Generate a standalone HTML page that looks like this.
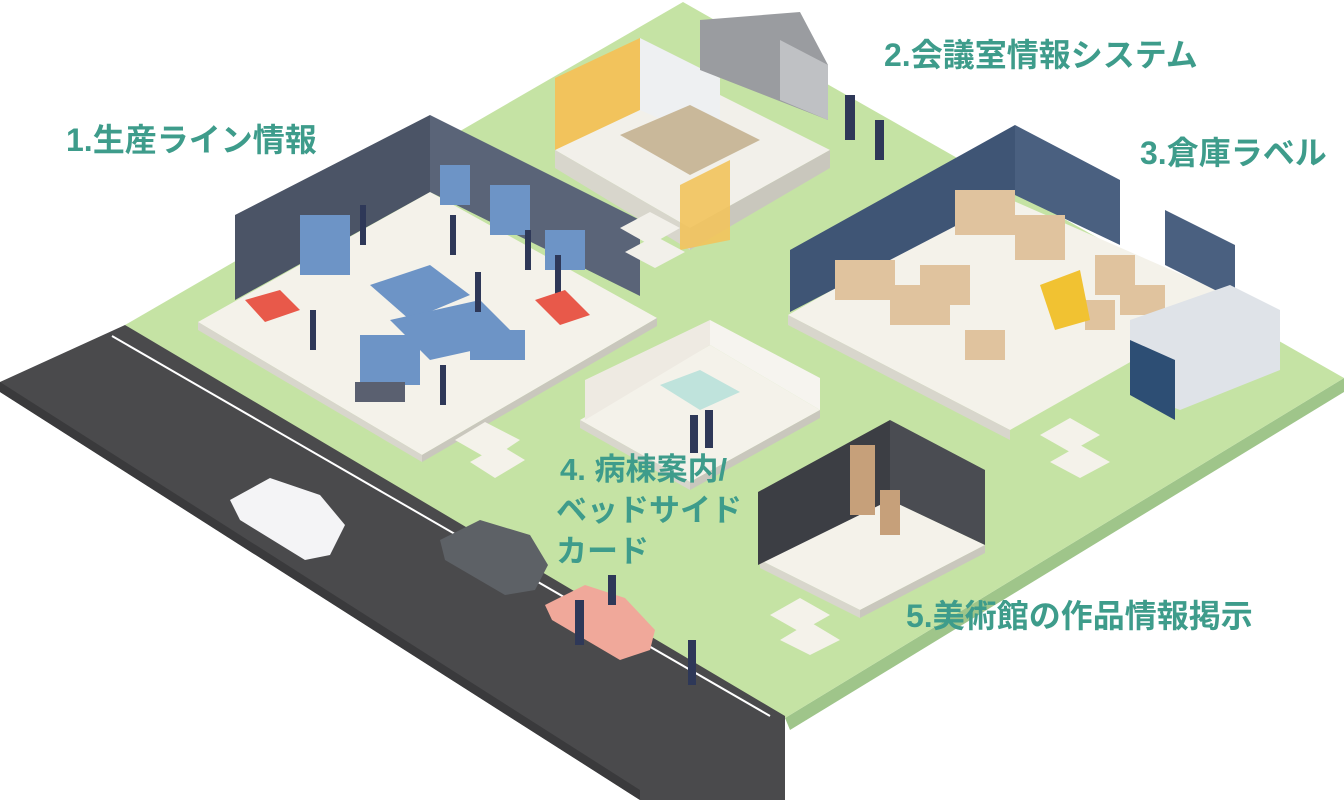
<!DOCTYPE html>
<html><head><meta charset="utf-8"><style>
html,body{margin:0;padding:0;background:#fff;width:1344px;height:800px;overflow:hidden}
svg{display:block}
text{font-family:"Liberation Sans","Noto Sans CJK JP",sans-serif;font-weight:bold;fill:#3e9c8b;font-size:32px}
</style></head><body>
<svg width="1344" height="800" viewBox="0 0 1344 800">
<polygon points="1344,378 1344,392 790,730 785,718" fill="#9fc58a"/>
<polygon points="683,2 1344,378 785,718 125,325" fill="#c5e3a4"/>
<polygon points="125,325 785,716 785,800 640,800 0,392 0,382" fill="#4a4a4c"/>
<polygon points="0,382 640,790 640,800 0,392" fill="#3a3a3c"/>
<polyline points="112,336 770,716" stroke="#fff" stroke-width="2" fill="none"/>

<polygon points="198,322 430,192 657,318 422,455" fill="#f4f2ea"/>
<polygon points="198,322 422,455 422,462 198,330" fill="#d8d6cc"/>
<polygon points="422,455 657,318 657,326 422,462" fill="#c9c7bd"/>
<polygon points="235,215 430,115 430,192 235,300" fill="#4b5466"/>
<polygon points="430,115 640,220 640,296 430,192" fill="#5a6478"/>
<g fill="#6d94c6">
<rect x="300" y="215" width="50" height="60"/><rect x="440" y="165" width="30" height="40"/>
<rect x="490" y="185" width="40" height="50"/><rect x="545" y="230" width="40" height="40"/>
<polygon points="370,285 430,265 470,295 410,320"/><polygon points="390,320 480,300 520,340 430,360"/>
<rect x="360" y="335" width="60" height="50"/><rect x="470" y="330" width="55" height="30"/>
</g>
<g fill="#2e3858"><rect x="360" y="205" width="6" height="40"/><rect x="450" y="215" width="6" height="40"/><rect x="475" y="272" width="6" height="40"/><rect x="525" y="230" width="6" height="40"/><rect x="440" y="365" width="6" height="40"/><rect x="310" y="310" width="6" height="40"/><rect x="555" y="255" width="6" height="40"/></g>
<rect x="355" y="382" width="50" height="20" fill="#5a6070"/>
<polygon points="245,300 280,290 300,310 265,322" fill="#e8594a"/>
<polygon points="535,300 565,290 590,315 560,325" fill="#e8594a"/>
<polygon points="455,440 485,422 520,440 490,460" fill="#f4f2ea"/>
<polygon points="470,462 500,445 525,460 495,478" fill="#f4f2ea"/>

<polygon points="555,150 690,80 830,150 690,228" fill="#f2f0ea"/>
<polygon points="555,150 690,228 690,250 555,168" fill="#d8d6cc"/>
<polygon points="690,228 830,150 830,168 690,250" fill="#c9c7bd"/>
<polygon points="555,78 640,38 640,110 555,150" fill="#f2c35c"/>
<polygon points="640,38 720,78 720,145 640,110" fill="#eef0f2"/>
<polygon points="680,185 730,160 730,240 680,250" fill="#f2c35c" opacity=".9"/>
<polygon points="620,135 690,105 760,140 690,175" fill="#c9b89a"/>
<polygon points="700,20 800,12 828,65 828,120 700,70" fill="#9a9ca0"/>
<polygon points="780,40 828,65 828,120 780,100" fill="#bfc1c4"/>
<polygon points="620,228 650,212 680,228 650,245" fill="#f2f0ea"/>
<polygon points="625,252 655,236 685,252 655,268" fill="#f2f0ea"/>
<g fill="#2e3858"><rect x="845" y="95" width="10" height="45"/><rect x="875" y="120" width="9" height="40"/></g>

<polygon points="788,315 1000,195 1240,300 1010,430" fill="#f4f2ea"/>
<polygon points="788,315 1010,430 1010,440 788,325" fill="#d8d6cc"/>
<polygon points="790,250 1015,125 1015,195 790,312" fill="#3f5575"/>
<polygon points="1015,125 1120,180 1120,245 1015,195" fill="#4a6080"/>
<polygon points="1165,210 1235,245 1235,300 1165,265" fill="#4a6080"/>
<g fill="#e0c39e">
<rect x="835" y="260" width="60" height="40"/><rect x="890" y="285" width="60" height="40"/><rect x="955" y="190" width="60" height="45"/>
<rect x="1015" y="215" width="50" height="45"/><rect x="1095" y="255" width="40" height="40"/><rect x="1120" y="285" width="45" height="30"/>
<rect x="965" y="330" width="40" height="30"/><rect x="1085" y="300" width="30" height="30"/><rect x="920" y="265" width="50" height="40"/>
</g>
<polygon points="1040,285 1080,270 1090,320 1055,330" fill="#f1c232"/>
<polygon points="1130,320 1230,285 1280,310 1280,370 1180,410 1130,390" fill="#dfe3e8"/>
<polygon points="1130,340 1175,360 1175,420 1130,395" fill="#2d4e74"/>
<polygon points="1040,435 1070,418 1100,435 1070,452" fill="#f4f2ea"/>
<polygon points="1050,462 1080,445 1110,462 1080,478" fill="#f4f2ea"/>

<polygon points="580,420 710,345 820,410 690,482" fill="#f4f2ea"/>
<polygon points="580,420 690,482 690,490 580,428" fill="#d8d6cc"/>
<polygon points="690,482 820,410 820,418 690,490" fill="#c9c7bd"/>
<polygon points="585,380 710,320 710,345 585,420" fill="#eeeae2"/>
<polygon points="710,320 820,378 820,410 710,345" fill="#f6f4ef"/>
<polygon points="660,385 700,370 740,392 700,410" fill="#bfe3dc"/>
<g fill="#2e3858"><rect x="705" y="410" width="8" height="38"/><rect x="690" y="415" width="8" height="38"/></g>

<polygon points="760,560 880,495 985,545 860,610" fill="#f4f2ea"/>
<polygon points="760,560 860,610 860,618 760,568" fill="#d8d6cc"/>
<polygon points="860,610 985,545 985,553 860,618" fill="#c9c7bd"/>
<polygon points="758,492 890,420 890,500 758,565" fill="#3c3e44"/>
<polygon points="890,420 985,470 985,545 890,500" fill="#4a4c52"/>
<rect x="850" y="445" width="25" height="70" fill="#c6a07a"/>
<rect x="880" y="490" width="20" height="45" fill="#c6a07a"/>
<polygon points="770,615 800,598 830,615 800,632" fill="#f4f2ea"/>
<polygon points="780,640 810,622 840,640 810,655" fill="#f4f2ea"/>

<polygon points="230,500 270,478 320,495 345,525 330,555 305,560 240,520" fill="#f4f4f6"/>
<polygon points="440,540 480,520 530,535 548,565 535,590 505,595 445,560" fill="#5d6166"/>
<polygon points="545,605 585,585 625,598 655,630 650,650 620,660 552,620" fill="#f0a89a"/>
<g fill="#2e3858"><rect x="575" y="600" width="9" height="45"/><rect x="688" y="640" width="8" height="45"/><rect x="608" y="575" width="8" height="30"/></g>

<text x="66" y="151">1.生産ライン情報</text>
<text x="884" y="66">2.会議室情報システム</text>
<text x="1140" y="164">3.倉庫ラベル</text>
<text x="560" y="480" style="font-size:31px">4. 病棟案内/</text>
<text x="556" y="521" style="font-size:31px">ベッドサイド</text>
<text x="556" y="562" style="font-size:31px">カード</text>
<text x="906" y="627">5.美術館の作品情報掲示</text>
</svg>
</body></html>
